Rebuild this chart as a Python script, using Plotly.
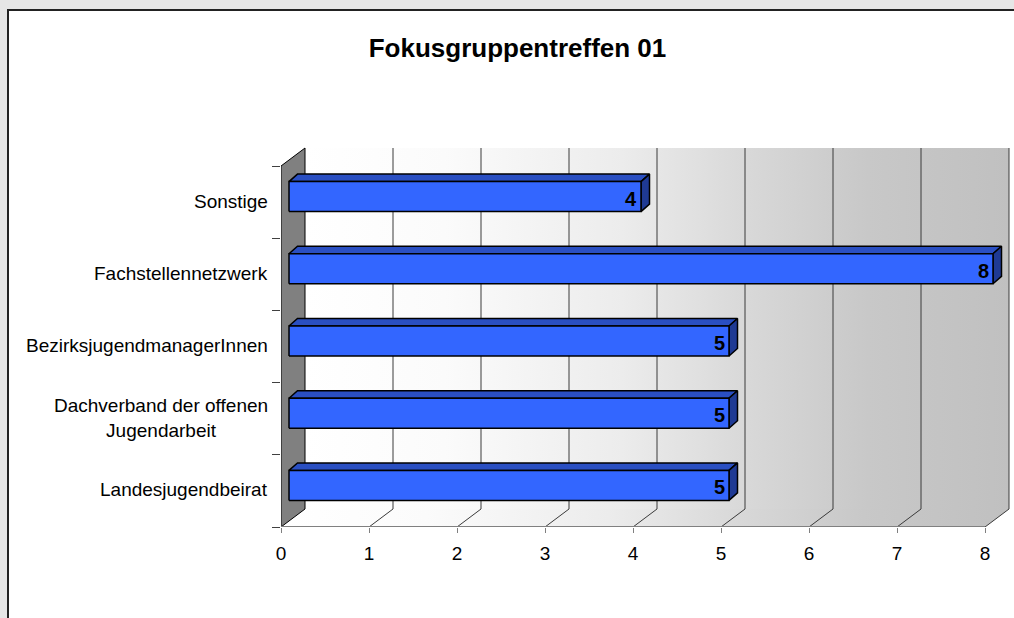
import plotly.graph_objects as go

# ---- data ----
categories = [
    "Landesjugendbeirat",
    "Dachverband der offenen<br>Jugendarbeit",
    "BezirksjugendmanagerInnen",
    "Fachstellennetzwerk",
    "Sonstige",
]
values = [5, 5, 5, 8, 4]
x_ticks = [0, 1, 2, 3, 4, 5, 6, 7, 8]
title_text = "Fokusgruppentreffen 01"

# ---- geometry (pixel scale of the axes) ----
W, H_FIG = 1014, 618
M_L, M_R, M_T, M_B = 281, 2, 140, 91
PLOT_W = W - M_L - M_R
PLOT_H = H_FIG - M_T - M_B
PX_X = 88.0      # pixels per value unit
PX_Y = 72.2      # pixels per category
XMAX = x_ticks[-1]
NCAT = len(categories)

DX = 24 / PX_X   # depth offset of the back wall
DY = 18 / PX_Y
SX = 8 / PX_X    # bar front face offset from front plane
SY = 5.5 / PX_Y
BH = 15 / PX_Y   # half height of bar face
BX = 8.5 / PX_X  # bar depth
BY = 7.5 / PX_Y

y0 = -0.5
y1 = NCAT - 0.5

FONT = "Liberation Sans, Arial, sans-serif"

fig = go.Figure()

wall_scale = [[0, "#ffffff"], [0.2, "#fbfbfb"], [0.45, "#ececec"],
              [0.62, "#d9d9d9"], [0.8, "#c8c8c8"], [1, "#c0c0c0"]]

# floor
fig.add_trace(go.Scatter(
    x=[0, XMAX, XMAX + DX, DX, 0],
    y=[y0, y0, y0 + DY, y0 + DY, y0],
    mode="lines", fill="toself", line=dict(width=0),
    fillgradient=dict(type="horizontal", colorscale=wall_scale),
    hoverinfo="skip", showlegend=False))

# back wall
fig.add_trace(go.Scatter(
    x=[DX, XMAX + DX, XMAX + DX, DX, DX],
    y=[y0 + DY, y0 + DY, y1 + DY, y1 + DY, y0 + DY],
    mode="lines", fill="toself", line=dict(width=0),
    fillgradient=dict(type="horizontal", colorscale=wall_scale),
    hoverinfo="skip", showlegend=False))

# gridlines (back wall verticals + floor diagonals)
gx, gy = [], []
for k in x_ticks[1:]:
    gx += [k + DX, k + DX, None, k, k + DX, None]
    gy += [y0 + DY, y1 + DY, None, y0, y0 + DY, None]
fig.add_trace(go.Scatter(x=gx, y=gy, mode="lines",
                         line=dict(color="#3a3a3a", width=1),
                         hoverinfo="skip", showlegend=False))

# left side wall
fig.add_trace(go.Scatter(
    x=[0, DX, DX, 0, 0],
    y=[y0, y0 + DY, y1 + DY, y1, y0],
    mode="lines", fill="toself", fillcolor="#808080",
    line=dict(color="#000000", width=1),
    hoverinfo="skip", showlegend=False))

# front axis line
fig.add_trace(go.Scatter(x=[0, XMAX], y=[y0, y0], mode="lines",
                         line=dict(color="#808080", width=2),
                         hoverinfo="skip", showlegend=False))

# bars: front, top and right faces
fx, fy, tx, ty, rx, ry = [], [], [], [], [], []
for i, v in enumerate(values):
    yc = i + SY
    fx += [SX, v + SX, v + SX, SX, SX, None]
    fy += [yc - BH, yc - BH, yc + BH, yc + BH, yc - BH, None]
    tx += [SX, SX + BX, v + SX + BX, v + SX, SX, None]
    ty += [yc + BH, yc + BH + BY, yc + BH + BY, yc + BH, yc + BH, None]
    rx += [v + SX, v + SX + BX, v + SX + BX, v + SX, v + SX, None]
    ry += [yc - BH, yc - BH + BY, yc + BH + BY, yc + BH, yc - BH, None]
for xs, ys, col in [(tx, ty, "#2a4fc2"), (rx, ry, "#1f3a94"), (fx, fy, "#3366ff")]:
    fig.add_trace(go.Scatter(x=xs, y=ys, mode="lines", fill="toself",
                             fillcolor=col,
                             line=dict(color="#000000", width=1.5),
                             hoverinfo="skip", showlegend=False))

annotations = []
# category labels
for i, c in enumerate(categories):
    annotations.append(dict(
        x=0, y=i, xref="x", yref="y", text=c, showarrow=False,
        xanchor="right", yanchor="middle", xshift=-11, yshift=1, align="center",
        font=dict(family=FONT, size=19, color="#000000")))
# value labels
for i, v in enumerate(values):
    annotations.append(dict(
        x=v + SX, y=i + SY, xref="x", yref="y", text=str(v), showarrow=False,
        xanchor="right", yanchor="middle", xshift=-2, yshift=-2,
        font=dict(family=FONT, size=20, color="#000000", weight="bold")))

# outer white frame (pixel positions converted to paper coords)
def px_to_paper_x(px):
    return (px - M_L) / PLOT_W

def px_to_paper_y(py):
    return (H_FIG - M_B - py) / PLOT_H

fig.update_layout(
    width=W, height=H_FIG, autosize=False,
    margin=dict(l=M_L, r=M_R, t=M_T, b=M_B, pad=0),
    paper_bgcolor="#e6e6e6", plot_bgcolor="rgba(0,0,0,0)",
    title=dict(text=title_text, x=517.5 / W, y=1 - 48 / H_FIG,
               xanchor="center", yanchor="middle",
               font=dict(family=FONT, size=26, color="#000000", weight="bold")),
    xaxis=dict(range=[0, PLOT_W / PX_X], tickvals=x_ticks,
               ticktext=[str(t) for t in x_ticks],
               ticks="outside", ticklen=5, tickcolor="#808080", tickwidth=1,
               showgrid=False, zeroline=False, showline=False,
               tickfont=dict(family=FONT, size=19, color="#000000"),
               ticklabelstandoff=4, fixedrange=True),
    yaxis=dict(range=[y0, y0 + PLOT_H / PX_Y],
               tickvals=[k - 0.5 for k in range(NCAT + 1)],
               ticks="outside", ticklen=8, tickcolor="#404040", tickwidth=1,
               showticklabels=False, showgrid=False, zeroline=False,
               showline=False, fixedrange=True),
    annotations=annotations,
    shapes=[dict(type="rect", xref="paper", yref="paper", layer="below",
                 x0=px_to_paper_x(8), x1=px_to_paper_x(1030),
                 y0=px_to_paper_y(640), y1=px_to_paper_y(10),
                 fillcolor="#ffffff", line=dict(color="#222222", width=2))],
    showlegend=False,
)

fig.write_html("out.html", config={"displayModeBar": False, "staticPlot": True},
               post_script="document.body.style.margin='0';document.body.style.overflow='hidden';")
